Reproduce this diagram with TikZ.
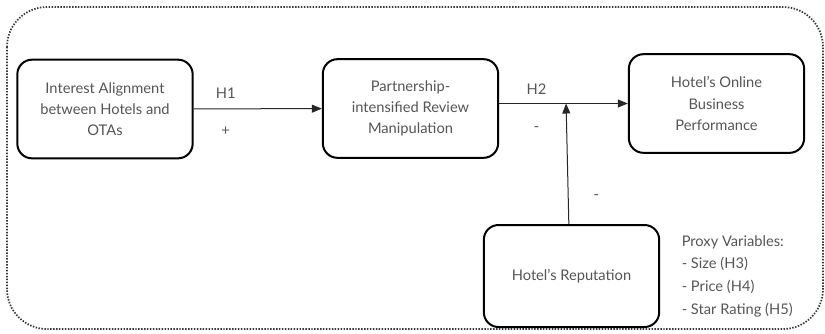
\documentclass[tikz,border=0pt]{standalone}
\usepackage{fontspec}
\setmainfont{Lato}
\usepackage{tikz}
\usetikzlibrary{arrows.meta}
\usetikzlibrary{positioning}
\definecolor[named]{LabelGray}{HTML}{555555}
\definecolor[named]{FrameGray}{HTML}{3A3A3A}
\definecolor[named]{LinkGray}{HTML}{262626}
\tikzset{construct/.style={
  draw=black,
  line width=1.5pt,
  rounded corners=11pt,
  fill=white,
  text=LabelGray,
  align=center,
  minimum width=131.5pt,
  minimum height=74pt,
  font=\fontsize{11}{16}\selectfont
}}
\tikzset{link/.style={
  draw=LinkGray,
  line width=0.75pt,
  -{Triangle[length=7.5pt,width=6pt]}
}}
\tikzset{sign/.style={text=LabelGray, inner sep=0pt, font=\fontsize{11}{12}\selectfont}}

\begin{document}
\begin{tikzpicture}[x=0.75pt,y=-0.75pt]
  \useasboundingbox (0,0) rectangle (825,333);
  % dotted frame round the model
  \draw[FrameGray, line width=1.3pt, dash pattern=on 1.1pt off 1.1pt, rounded corners=30pt]
    (7,7) rectangle (823,329);
  \node[construct] (align) at (105,109) {Interest Alignment\\between Hotels and\\OTAs};
  \node[construct] (manip) at (410.5,108.5) {Partnership-\\intensified Review\\Manipulation};
  \node[construct] (perf) at (716.5,103.5) {Hotel's Online\\Business\\Performance};
  \node[construct, minimum height=76.5pt] (repu) at (571.5,276) {Hotel's Reputation};
  \node[sign, align=left, right=16pt of repu, font=\fontsize{11}{17}\selectfont] (proxy)
    {Proxy Variables:\\- Size (H3)\\- Price (H4)\\- Star Rating (H5)};
  % hypotheses
  \draw[link] (align) -- node[sign, pos=0.25, yshift=12pt] {H1}
                         node[sign, pos=0.25, yshift=-17pt] {+} (manip);
  \draw[link] (manip.east |- perf.west) -- node[sign, pos=0.29, yshift=11pt] {H2}
                                           node[sign, pos=0.29, yshift=-19pt] {-}
                                           coordinate[pos=0.52] (meet) (perf.west);
  \draw[link] ([xshift=-2pt]repu.north) -- node[sign, pos=0.22, xshift=21pt] {-} (meet);
\end{tikzpicture}
\end{document}
